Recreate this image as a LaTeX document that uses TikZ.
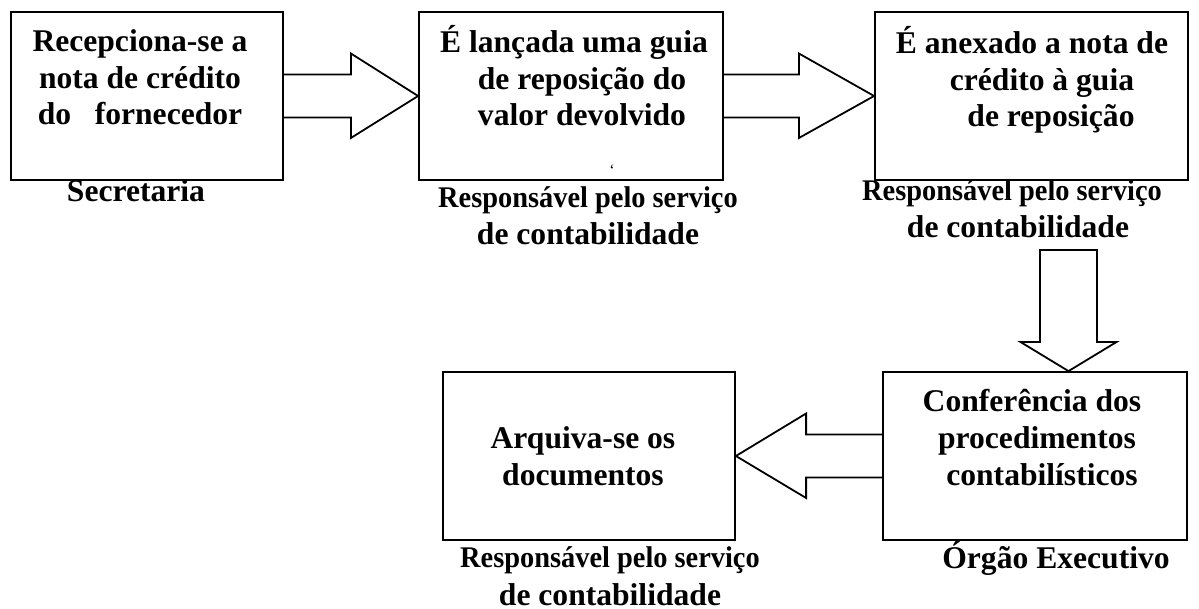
\documentclass[tikz,border=0pt]{standalone}
\usepackage{fontspec}
\setmainfont{Liberation Serif}
\usetikzlibrary{calc}
\newcommand{\respline}{\scalebox{0.946}[1]{\fontsize{15}{18.5}\selectfont Responsável pelo serviço}}
\tikzset{%
  procbox/.style  = {shape=rectangle, draw, line width=0.9pt,%
                     minimum height=84pt, minimum width=#1},%
  boxtext/.style  = {align=center, inner sep=0pt, anchor=base,%
                     font=\bfseries\fontsize{15.8}{18.3}\selectfont},%
  lbltext/.style  = {boxtext, font=\bfseries\fontsize{15.8}{18.6}\selectfont},%
  blockarrow/.style = {draw, line width=0.9pt, line join=miter}%
}
\begin{document}
\begin{tikzpicture}[x=0.5pt,y=-0.5pt]
	\useasboundingbox[fill=white] (0,0) rectangle (1199,609);
	\node [procbox=136pt] (b1) at (147,96) {};
	\node [procbox=152pt] (b2) at (571,96) {};
	\node [procbox=156.5pt] (b3) at (1031.5,96) {};
	\node [procbox=152pt] (b4) at (1035,456) {};
	\node [procbox=146pt] (b5) at (589,456) {};
	\node [boxtext] (t1) at (140,125) {Recepciona-se a\\nota de crédito\\do \ \ fornecedor};
	\node [boxtext] (t2) at (582,126) {É lançada uma guia\hspace*{8pt}\\de reposição do\\valor devolvido};
	\node [boxtext] (t3) at (1042,127) {É anexado a nota de\hspace*{10pt}\\crédito à guia\\\hspace*{9pt}de reposição};
	\node [boxtext] (t4) at (1037,485) {Conferência dos\hspace*{5pt}\\procedimentos\\\hspace*{5pt}contabilísticos};
	\node [boxtext] (t5) at (583,485) {Arquiva-se os\\documentos};
	\node [inner sep=0pt, font=\fontsize{8}{8}\selectfont] (mark) at (612,170) {`};
	\node [lbltext] (l1) at (136,202) {Secretaria};
	\node [lbltext] (l2) at (588,245) {\respline\\de contabilidade};
	\node [lbltext] (l3) at (1018,238) {\respline\hspace*{6pt}\\de contabilidade};
	\node [lbltext] (l4) at (1056,568) {Órgão Executivo};
	\node [lbltext] (l5) at (610,605) {\respline\\de contabilidade};
	\coordinate (d) at (1068.5,250);
	\draw [blockarrow] ($(b1.east)+(0,-21.5)$) -- ++(67,0) -- ++(0,-21) -- (b2.west)
		-- ($(b1.east)+(67,42)$) -- ++(0,-20.5) -- ($(b1.east)+(0,21.5)$);
	\draw [blockarrow] ($(b2.east)+(0,-21.5)$) -- ++(75,0) -- ++(0,-21) -- (b3.west)
		-- ($(b2.east)+(75,42)$) -- ++(0,-20.5) -- ($(b2.east)+(0,21.5)$);
	\draw [blockarrow] ($(d)+(-28.5,0)$) -- ($(d)+(28.5,0)$) -- ($(d)+(28.5,92)$)
		-- ($(d)+(48,92)$) -- (d |- b4.north) -- ($(d)+(-48,92)$)
		-- ($(d)+(-28.5,92)$) -- cycle;
	\draw [blockarrow] ($(b4.west)+(0,-21.5)$) -- ++(-76,0) -- ++(0,-21) -- (b5.east)
		-- ($(b4.west)+(-76,42)$) -- ++(0,-20.5) -- ($(b4.west)+(0,21.5)$);
\end{tikzpicture}
\end{document}
